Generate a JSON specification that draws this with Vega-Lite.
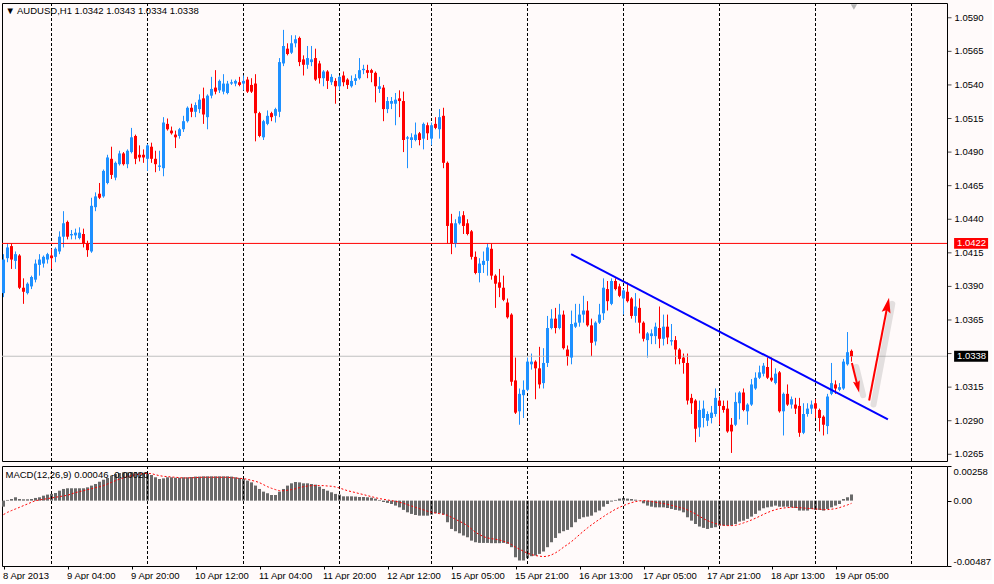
{
  "$schema": "https://vega.github.io/schema/vega-lite/v6.json",
  "background": "#fffafa",
  "padding": {"left": 1, "top": 2, "right": 0, "bottom": 0},
  "spacing": 3,
  "config": {
    "view": {"stroke": "#000000", "strokeWidth": 1},
    "axis": {"labelFont": "Liberation Sans", "labelFontSize": 9.5, "labelColor": "#000000", "tickColor": "#000000", "domain": false, "grid": false, "labelOverlap": false},
    "text": {"font": "Liberation Sans, DejaVu Sans", "fontSize": 9.5}
  },
  "datasets": {
    "bars": [
      {"i":0,"o":1.0385,"h":1.0414,"l":1.0382,"c":1.0410,"m":-0.00045,"s":-0.00104},
      {"i":1,"o":1.0411,"h":1.0422,"l":1.0408,"c":1.0419,"m":0.00005,"s":-0.00087},
      {"i":2,"o":1.0420,"h":1.0422,"l":1.0403,"c":1.0410,"m":0.00012,"s":-0.00074},
      {"i":3,"o":1.0409,"h":1.0416,"l":1.0403,"c":1.0414,"m":0.00025,"s":-0.00062},
      {"i":4,"o":1.0413,"h":1.0414,"l":1.0388,"c":1.0389,"m":0.00012,"s":-0.00050},
      {"i":5,"o":1.0389,"h":1.0396,"l":1.0377,"c":1.0386,"m":0.00010,"s":-0.00037},
      {"i":6,"o":1.0385,"h":1.0393,"l":1.0384,"c":1.0392,"m":0.00010,"s":-0.00025},
      {"i":7,"o":1.0390,"h":1.0398,"l":1.0388,"c":1.0397,"m":0.00012,"s":-0.00012},
      {"i":8,"o":1.0395,"h":1.0410,"l":1.0393,"c":1.0407,"m":0.00020,"s":0},
      {"i":9,"o":1.0406,"h":1.0414,"l":1.0398,"c":1.0410,"m":0.00025,"s":0.00005},
      {"i":10,"o":1.0407,"h":1.0413,"l":1.0404,"c":1.0412,"m":0.00037,"s":0.00010},
      {"i":11,"o":1.0410,"h":1.0415,"l":1.0407,"c":1.0414,"m":0.00045,"s":0.00015},
      {"i":12,"o":1.0413,"h":1.0418,"l":1.0403,"c":1.0411,"m":0.00050,"s":0.00020},
      {"i":13,"o":1.0412,"h":1.0419,"l":1.0408,"c":1.0418,"m":0.00057,"s":0.00025},
      {"i":14,"o":1.0416,"h":1.0431,"l":1.0414,"c":1.0427,"m":0.00074,"s":0.00030},
      {"i":15,"o":1.0427,"h":1.0446,"l":1.0419,"c":1.0437,"m":0.00087,"s":0.00035},
      {"i":16,"o":1.0438,"h":1.0439,"l":1.0425,"c":1.0427,"m":0.00092,"s":0.00040},
      {"i":17,"o":1.0428,"h":1.0432,"l":1.0425,"c":1.0429,"m":0.00092,"s":0.00050},
      {"i":18,"o":1.0428,"h":1.0433,"l":1.0425,"c":1.0430,"m":0.00092,"s":0.00060},
      {"i":19,"o":1.0426,"h":1.0434,"l":1.0425,"c":1.0430,"m":0.00092,"s":0.00067},
      {"i":20,"o":1.0429,"h":1.0433,"l":1.0419,"c":1.0422,"m":0.00092,"s":0.00074},
      {"i":21,"o":1.0422,"h":1.0424,"l":1.0412,"c":1.0417,"m":0.00099,"s":0.00082},
      {"i":22,"o":1.0416,"h":1.0456,"l":1.0415,"c":1.0450,"m":0.00112,"s":0.00089},
      {"i":23,"o":1.0449,"h":1.0460,"l":1.0446,"c":1.0457,"m":0.00124,"s":0.00097},
      {"i":24,"o":1.0459,"h":1.0467,"l":1.0455,"c":1.0456,"m":0.00141,"s":0.00104},
      {"i":25,"o":1.0457,"h":1.0477,"l":1.0456,"c":1.0476,"m":0.00156,"s":0.00112},
      {"i":26,"o":1.0467,"h":1.0488,"l":1.0466,"c":1.0486,"m":0.00169,"s":0.00124},
      {"i":27,"o":1.0485,"h":1.0494,"l":1.0470,"c":1.0473,"m":0.00186,"s":0.00136},
      {"i":28,"o":1.0471,"h":1.0483,"l":1.0469,"c":1.0482,"m":0.00198,"s":0.00149},
      {"i":29,"o":1.0481,"h":1.0491,"l":1.0480,"c":1.0489,"m":0.00206,"s":0.00161},
      {"i":30,"o":1.0489,"h":1.0490,"l":1.0480,"c":1.0481,"m":0.00211,"s":0.00169},
      {"i":31,"o":1.0481,"h":1.0492,"l":1.0478,"c":1.0491,"m":0.00211,"s":0.00179},
      {"i":32,"o":1.0490,"h":1.0508,"l":1.0489,"c":1.0501,"m":0.00213,"s":0.00186},
      {"i":33,"o":1.0502,"h":1.0503,"l":1.0481,"c":1.0485,"m":0.00213,"s":0.00193},
      {"i":34,"o":1.0488,"h":1.0495,"l":1.0483,"c":1.0486,"m":0.00211,"s":0.00198},
      {"i":35,"o":1.0488,"h":1.0492,"l":1.0482,"c":1.0486,"m":0.00208,"s":0.00201},
      {"i":36,"o":1.0485,"h":1.0496,"l":1.0476,"c":1.0495,"m":0.00198,"s":0.00203},
      {"i":37,"o":1.0494,"h":1.0497,"l":1.0482,"c":1.0485,"m":0.00191,"s":0.00201},
      {"i":38,"o":1.0485,"h":1.0491,"l":1.0475,"c":1.0481,"m":0.00174,"s":0.00193},
      {"i":39,"o":1.0479,"h":1.0491,"l":1.0476,"c":1.0480,"m":0.00161,"s":0.00186},
      {"i":40,"o":1.0478,"h":1.0516,"l":1.0472,"c":1.0512,"m":0.00166,"s":0.00181},
      {"i":41,"o":1.0511,"h":1.0515,"l":1.0506,"c":1.0507,"m":0.00174,"s":0.00179},
      {"i":42,"o":1.0506,"h":1.0509,"l":1.0503,"c":1.0504,"m":0.00174,"s":0.00176},
      {"i":43,"o":1.0503,"h":1.0506,"l":1.0493,"c":1.0501,"m":0.00171,"s":0.00174},
      {"i":44,"o":1.0502,"h":1.0508,"l":1.0500,"c":1.0507,"m":0.00171,"s":0.00171},
      {"i":45,"o":1.0507,"h":1.0517,"l":1.0505,"c":1.0513,"m":0.00174,"s":0.00169},
      {"i":46,"o":1.0513,"h":1.0524,"l":1.0512,"c":1.0523,"m":0.00174,"s":0.00169},
      {"i":47,"o":1.0523,"h":1.0526,"l":1.0516,"c":1.0520,"m":0.00176,"s":0.00171},
      {"i":48,"o":1.0520,"h":1.0527,"l":1.0516,"c":1.0525,"m":0.00179,"s":0.00171},
      {"i":49,"o":1.0522,"h":1.0533,"l":1.0519,"c":1.0529,"m":0.00179,"s":0.00174},
      {"i":50,"o":1.0530,"h":1.0538,"l":1.0511,"c":1.0518,"m":0.00181,"s":0.00174},
      {"i":51,"o":1.0516,"h":1.0533,"l":1.0507,"c":1.0532,"m":0.00181,"s":0.00174},
      {"i":52,"o":1.0532,"h":1.0546,"l":1.0530,"c":1.0537,"m":0.00181,"s":0.00174},
      {"i":53,"o":1.0538,"h":1.0551,"l":1.0533,"c":1.0535,"m":0.00181,"s":0.00174},
      {"i":54,"o":1.0536,"h":1.0544,"l":1.0534,"c":1.0543,"m":0.00181,"s":0.00174},
      {"i":55,"o":1.0535,"h":1.0548,"l":1.0533,"c":1.0541,"m":0.00181,"s":0.00174},
      {"i":56,"o":1.0534,"h":1.0543,"l":1.0533,"c":1.0541,"m":0.00181,"s":0.00174},
      {"i":57,"o":1.0541,"h":1.0544,"l":1.0540,"c":1.0542,"m":0.00179,"s":0.00171},
      {"i":58,"o":1.0541,"h":1.0544,"l":1.0539,"c":1.0543,"m":0.00174,"s":0.00169},
      {"i":59,"o":1.0542,"h":1.0546,"l":1.0539,"c":1.0540,"m":0.00169,"s":0.00166},
      {"i":60,"o":1.0541,"h":1.0547,"l":1.0536,"c":1.0543,"m":0.00161,"s":0.00164},
      {"i":61,"o":1.0544,"h":1.0546,"l":1.0534,"c":1.0535,"m":0.00149,"s":0.00159},
      {"i":62,"o":1.0540,"h":1.0545,"l":1.0534,"c":1.0535,"m":0.00136,"s":0.00151},
      {"i":63,"o":1.0541,"h":1.0548,"l":1.0498,"c":1.0519,"m":0.00112,"s":0.00144},
      {"i":64,"o":1.0519,"h":1.0520,"l":1.0501,"c":1.0502,"m":0.00087,"s":0.00134},
      {"i":65,"o":1.0501,"h":1.0514,"l":1.0499,"c":1.0513,"m":0.00067,"s":0.00119},
      {"i":66,"o":1.0511,"h":1.0521,"l":1.0510,"c":1.0517,"m":0.00055,"s":0.00104},
      {"i":67,"o":1.0519,"h":1.0520,"l":1.0513,"c":1.0516,"m":0.00042,"s":0.00092},
      {"i":68,"o":1.0517,"h":1.0523,"l":1.0512,"c":1.0522,"m":0.00042,"s":0.00082},
      {"i":69,"o":1.0520,"h":1.0560,"l":1.0516,"c":1.0557,"m":0.00067,"s":0.00074},
      {"i":70,"o":1.0556,"h":1.0581,"l":1.0554,"c":1.0569,"m":0.00087,"s":0.00074},
      {"i":71,"o":1.0567,"h":1.0571,"l":1.0562,"c":1.0563,"m":0.00112,"s":0.00077},
      {"i":72,"o":1.0564,"h":1.0577,"l":1.0563,"c":1.0571,"m":0.00129,"s":0.00082},
      {"i":73,"o":1.0571,"h":1.0577,"l":1.0568,"c":1.0574,"m":0.00139,"s":0.00089},
      {"i":74,"o":1.0575,"h":1.0576,"l":1.0554,"c":1.0557,"m":0.00136,"s":0.00097},
      {"i":75,"o":1.0559,"h":1.0562,"l":1.0547,"c":1.0555,"m":0.00129,"s":0.00104},
      {"i":76,"o":1.0555,"h":1.0569,"l":1.0552,"c":1.0560,"m":0.00129,"s":0.00109},
      {"i":77,"o":1.0557,"h":1.0569,"l":1.0554,"c":1.0559,"m":0.00124,"s":0.00112},
      {"i":78,"o":1.0560,"h":1.0567,"l":1.0543,"c":1.0544,"m":0.00119,"s":0.00112},
      {"i":79,"o":1.0556,"h":1.0558,"l":1.0541,"c":1.0545,"m":0.00104,"s":0.00112},
      {"i":80,"o":1.0545,"h":1.0551,"l":1.0539,"c":1.0550,"m":0.00087,"s":0.00112},
      {"i":81,"o":1.0550,"h":1.0551,"l":1.0537,"c":1.0543,"m":0.00074,"s":0.00109},
      {"i":82,"o":1.0542,"h":1.0548,"l":1.0540,"c":1.0546,"m":0.00062,"s":0.00107},
      {"i":83,"o":1.0543,"h":1.0545,"l":1.0526,"c":1.0539,"m":0.00050,"s":0.00102},
      {"i":84,"o":1.0539,"h":1.0547,"l":1.0536,"c":1.0546,"m":0.00045,"s":0.00094},
      {"i":85,"o":1.0547,"h":1.0550,"l":1.0539,"c":1.0542,"m":0.00032,"s":0.00084},
      {"i":86,"o":1.0544,"h":1.0545,"l":1.0537,"c":1.0540,"m":0.00032,"s":0.00074},
      {"i":87,"o":1.0539,"h":1.0547,"l":1.0538,"c":1.0543,"m":0.00032,"s":0.00067},
      {"i":88,"o":1.0543,"h":1.0548,"l":1.0540,"c":1.0545,"m":0.00030,"s":0.00060},
      {"i":89,"o":1.0545,"h":1.0560,"l":1.0544,"c":1.0551,"m":0.00027,"s":0.00052},
      {"i":90,"o":1.0551,"h":1.0555,"l":1.0548,"c":1.0552,"m":0.00027,"s":0.00045},
      {"i":91,"o":1.0551,"h":1.0555,"l":1.0545,"c":1.0549,"m":0.00025,"s":0.00037},
      {"i":92,"o":1.0551,"h":1.0552,"l":1.0542,"c":1.0549,"m":0.00022,"s":0.00030},
      {"i":93,"o":1.0549,"h":1.0550,"l":1.0527,"c":1.0539,"m":0.00015,"s":0.00022},
      {"i":94,"o":1.0537,"h":1.0546,"l":1.0534,"c":1.0539,"m":0.00005,"s":0.00015},
      {"i":95,"o":1.0538,"h":1.0540,"l":1.0513,"c":1.0522,"m":-0.00010,"s":0.00010},
      {"i":96,"o":1.0522,"h":1.0531,"l":1.0519,"c":1.0528,"m":-0.00017,"s":0.00005},
      {"i":97,"o":1.0526,"h":1.0531,"l":1.0522,"c":1.0528,"m":-0.00025,"s":0},
      {"i":98,"o":1.0526,"h":1.0534,"l":1.0510,"c":1.0529,"m":-0.00037,"s":-0.00005},
      {"i":99,"o":1.0530,"h":1.0536,"l":1.0516,"c":1.0528,"m":-0.00050,"s":-0.00012},
      {"i":100,"o":1.0528,"h":1.0535,"l":1.0490,"c":1.0499,"m":-0.00069,"s":-0.00020},
      {"i":101,"o":1.0500,"h":1.0502,"l":1.0478,"c":1.0501,"m":-0.00087,"s":-0.00030},
      {"i":102,"o":1.0499,"h":1.0504,"l":1.0493,"c":1.0501,"m":-0.00099,"s":-0.00040},
      {"i":103,"o":1.0499,"h":1.0512,"l":1.0498,"c":1.0503,"m":-0.00107,"s":-0.00050},
      {"i":104,"o":1.0504,"h":1.0505,"l":1.0495,"c":1.0499,"m":-0.00112,"s":-0.00060},
      {"i":105,"o":1.0500,"h":1.0512,"l":1.0492,"c":1.0511,"m":-0.00112,"s":-0.00069},
      {"i":106,"o":1.0510,"h":1.0512,"l":1.0499,"c":1.0504,"m":-0.00112,"s":-0.00079},
      {"i":107,"o":1.0500,"h":1.0512,"l":1.0495,"c":1.0510,"m":-0.00104,"s":-0.00087},
      {"i":108,"o":1.0511,"h":1.0516,"l":1.0507,"c":1.0508,"m":-0.00094,"s":-0.00092},
      {"i":109,"o":1.0507,"h":1.0522,"l":1.0500,"c":1.0516,"m":-0.00094,"s":-0.00097},
      {"i":110,"o":1.0517,"h":1.0523,"l":1.0478,"c":1.0482,"m":-0.00104,"s":-0.00102},
      {"i":111,"o":1.0482,"h":1.0483,"l":1.0422,"c":1.0435,"m":-0.00161,"s":-0.00109},
      {"i":112,"o":1.0437,"h":1.0444,"l":1.0414,"c":1.0422,"m":-0.00211,"s":-0.00124},
      {"i":113,"o":1.0422,"h":1.0440,"l":1.0419,"c":1.0437,"m":-0.00228,"s":-0.00139},
      {"i":114,"o":1.0437,"h":1.0446,"l":1.0436,"c":1.0442,"m":-0.00243,"s":-0.00154},
      {"i":115,"o":1.0443,"h":1.0446,"l":1.0429,"c":1.0435,"m":-0.00260,"s":-0.00169},
      {"i":116,"o":1.0437,"h":1.0440,"l":1.0428,"c":1.0429,"m":-0.00273,"s":-0.00186},
      {"i":117,"o":1.0431,"h":1.0432,"l":1.0410,"c":1.0412,"m":-0.00298,"s":-0.00211},
      {"i":118,"o":1.0412,"h":1.0416,"l":1.0399,"c":1.0400,"m":-0.00310,"s":-0.00236},
      {"i":119,"o":1.0400,"h":1.0411,"l":1.0393,"c":1.0407,"m":-0.00315,"s":-0.00253},
      {"i":120,"o":1.0406,"h":1.0416,"l":1.0400,"c":1.0409,"m":-0.00315,"s":-0.00268},
      {"i":121,"o":1.0409,"h":1.0422,"l":1.0398,"c":1.0419,"m":-0.00315,"s":-0.00278},
      {"i":122,"o":1.0418,"h":1.0422,"l":1.0395,"c":1.0398,"m":-0.00317,"s":-0.00283},
      {"i":123,"o":1.0398,"h":1.0399,"l":1.0374,"c":1.0392,"m":-0.00317,"s":-0.00288},
      {"i":124,"o":1.0393,"h":1.0403,"l":1.0382,"c":1.0389,"m":-0.00317,"s":-0.00293},
      {"i":125,"o":1.0389,"h":1.0398,"l":1.0379,"c":1.0380,"m":-0.00315,"s":-0.00303},
      {"i":126,"o":1.0378,"h":1.0381,"l":1.0366,"c":1.0367,"m":-0.00322,"s":-0.00312},
      {"i":127,"o":1.0369,"h":1.0370,"l":1.0316,"c":1.0319,"m":-0.00347,"s":-0.00327},
      {"i":128,"o":1.0320,"h":1.0337,"l":1.0295,"c":1.0296,"m":-0.00422,"s":-0.00347},
      {"i":129,"o":1.0297,"h":1.0314,"l":1.0287,"c":1.0310,"m":-0.00446,"s":-0.00362},
      {"i":130,"o":1.0309,"h":1.0320,"l":1.0292,"c":1.0313,"m":-0.00446,"s":-0.00377},
      {"i":131,"o":1.0313,"h":1.0337,"l":1.0312,"c":1.0334,"m":-0.00429,"s":-0.00392},
      {"i":132,"o":1.0332,"h":1.0340,"l":1.0328,"c":1.0334,"m":-0.00414,"s":-0.00402},
      {"i":133,"o":1.0334,"h":1.0335,"l":1.0306,"c":1.0329,"m":-0.00409,"s":-0.00409},
      {"i":134,"o":1.0329,"h":1.0345,"l":1.0314,"c":1.0317,"m":-0.00397,"s":-0.00414},
      {"i":135,"o":1.0318,"h":1.0344,"l":1.0314,"c":1.0333,"m":-0.00379,"s":-0.00417},
      {"i":136,"o":1.0333,"h":1.0368,"l":1.0330,"c":1.0359,"m":-0.00347,"s":-0.00414},
      {"i":137,"o":1.0359,"h":1.0373,"l":1.0358,"c":1.0366,"m":-0.00310,"s":-0.00404},
      {"i":138,"o":1.0366,"h":1.0374,"l":1.0355,"c":1.0359,"m":-0.00278,"s":-0.00389},
      {"i":139,"o":1.0359,"h":1.0377,"l":1.0358,"c":1.0369,"m":-0.00243,"s":-0.00370},
      {"i":140,"o":1.0369,"h":1.0372,"l":1.0343,"c":1.0344,"m":-0.00228,"s":-0.00347},
      {"i":141,"o":1.0343,"h":1.0346,"l":1.0331,"c":1.0338,"m":-0.00218,"s":-0.00327},
      {"i":142,"o":1.0337,"h":1.0372,"l":1.0332,"c":1.0362,"m":-0.00198,"s":-0.00305},
      {"i":143,"o":1.0360,"h":1.0377,"l":1.0359,"c":1.0363,"m":-0.00161,"s":-0.00280},
      {"i":144,"o":1.0363,"h":1.0377,"l":1.0360,"c":1.0369,"m":-0.00136,"s":-0.00253},
      {"i":145,"o":1.0369,"h":1.0383,"l":1.0363,"c":1.0372,"m":-0.00124,"s":-0.00228},
      {"i":146,"o":1.0372,"h":1.0379,"l":1.0360,"c":1.0361,"m":-0.00119,"s":-0.00203},
      {"i":147,"o":1.0361,"h":1.0366,"l":1.0338,"c":1.0348,"m":-0.00112,"s":-0.00181},
      {"i":148,"o":1.0349,"h":1.0364,"l":1.0346,"c":1.0363,"m":-0.00087,"s":-0.00159},
      {"i":149,"o":1.0363,"h":1.0377,"l":1.0362,"c":1.0369,"m":-0.00074,"s":-0.00139},
      {"i":150,"o":1.0370,"h":1.0396,"l":1.0365,"c":1.0389,"m":-0.00045,"s":-0.00119},
      {"i":151,"o":1.0388,"h":1.0394,"l":1.0372,"c":1.0379,"m":-0.00025,"s":-0.00099},
      {"i":152,"o":1.0377,"h":1.0396,"l":1.0376,"c":1.0394,"m":-0.00007,"s":-0.00082},
      {"i":153,"o":1.0394,"h":1.0396,"l":1.0387,"c":1.0388,"m":0.00005,"s":-0.00064},
      {"i":154,"o":1.0390,"h":1.0392,"l":1.0382,"c":1.0383,"m":0.00015,"s":-0.00050},
      {"i":155,"o":1.0381,"h":1.0388,"l":1.0369,"c":1.0387,"m":0.00020,"s":-0.00037},
      {"i":156,"o":1.0386,"h":1.0393,"l":1.0378,"c":1.0379,"m":0.00015,"s":-0.00025},
      {"i":157,"o":1.0381,"h":1.0382,"l":1.0366,"c":1.0368,"m":0.00012,"s":-0.00015},
      {"i":158,"o":1.0368,"h":1.0385,"l":1.0363,"c":1.0375,"m":0.00007,"s":-0.00007},
      {"i":159,"o":1.0374,"h":1.0381,"l":1.0355,"c":1.0363,"m":-0.00002,"s":-0.00002},
      {"i":160,"o":1.0363,"h":1.0364,"l":1.0349,"c":1.0351,"m":-0.00020,"s":0},
      {"i":161,"o":1.0350,"h":1.0356,"l":1.0337,"c":1.0355,"m":-0.00037,"s":-0.00002},
      {"i":162,"o":1.0353,"h":1.0358,"l":1.0347,"c":1.0355,"m":-0.00045,"s":-0.00007},
      {"i":163,"o":1.0353,"h":1.0363,"l":1.0347,"c":1.0360,"m":-0.00050,"s":-0.00012},
      {"i":164,"o":1.0359,"h":1.0375,"l":1.0344,"c":1.0351,"m":-0.00050,"s":-0.00017},
      {"i":165,"o":1.0351,"h":1.0369,"l":1.0346,"c":1.0360,"m":-0.00050,"s":-0.00022},
      {"i":166,"o":1.0360,"h":1.0369,"l":1.0347,"c":1.0352,"m":-0.00055,"s":-0.00027},
      {"i":167,"o":1.0349,"h":1.0362,"l":1.0346,"c":1.0350,"m":-0.00062,"s":-0.00035},
      {"i":168,"o":1.0350,"h":1.0353,"l":1.0332,"c":1.0343,"m":-0.00069,"s":-0.00042},
      {"i":169,"o":1.0343,"h":1.0344,"l":1.0332,"c":1.0336,"m":-0.00074,"s":-0.00050},
      {"i":170,"o":1.0337,"h":1.0340,"l":1.0325,"c":1.0333,"m":-0.00087,"s":-0.00057},
      {"i":171,"o":1.0333,"h":1.0340,"l":1.0302,"c":1.0305,"m":-0.00124,"s":-0.00069},
      {"i":172,"o":1.0307,"h":1.0310,"l":1.0295,"c":1.0303,"m":-0.00149,"s":-0.00084},
      {"i":173,"o":1.0305,"h":1.0306,"l":1.0274,"c":1.0284,"m":-0.00174,"s":-0.00099},
      {"i":174,"o":1.0285,"h":1.0305,"l":1.0278,"c":1.0298,"m":-0.00193,"s":-0.00117},
      {"i":175,"o":1.0292,"h":1.0305,"l":1.0285,"c":1.0299,"m":-0.00203,"s":-0.00134},
      {"i":176,"o":1.0290,"h":1.0297,"l":1.0286,"c":1.0295,"m":-0.00211,"s":-0.00149},
      {"i":177,"o":1.0292,"h":1.0301,"l":1.0288,"c":1.0296,"m":-0.00203,"s":-0.00161},
      {"i":178,"o":1.0295,"h":1.0314,"l":1.0293,"c":1.0307,"m":-0.00198,"s":-0.00171},
      {"i":179,"o":1.0305,"h":1.0308,"l":1.0287,"c":1.0301,"m":-0.00186,"s":-0.00179},
      {"i":180,"o":1.0301,"h":1.0305,"l":1.0296,"c":1.0298,"m":-0.00186,"s":-0.00184},
      {"i":181,"o":1.0299,"h":1.0305,"l":1.0281,"c":1.0282,"m":-0.00186,"s":-0.00186},
      {"i":182,"o":1.0287,"h":1.0292,"l":1.0266,"c":1.0282,"m":-0.00186,"s":-0.00186},
      {"i":183,"o":1.0287,"h":1.0311,"l":1.0286,"c":1.0304,"m":-0.00174,"s":-0.00184},
      {"i":184,"o":1.0303,"h":1.0312,"l":1.0291,"c":1.0311,"m":-0.00156,"s":-0.00176},
      {"i":185,"o":1.0311,"h":1.0314,"l":1.0297,"c":1.0298,"m":-0.00149,"s":-0.00166},
      {"i":186,"o":1.0297,"h":1.0303,"l":1.0287,"c":1.0302,"m":-0.00136,"s":-0.00156},
      {"i":187,"o":1.0302,"h":1.0321,"l":1.0301,"c":1.0317,"m":-0.00119,"s":-0.00144},
      {"i":188,"o":1.0314,"h":1.0326,"l":1.0313,"c":1.0322,"m":-0.00099,"s":-0.00131},
      {"i":189,"o":1.0322,"h":1.0331,"l":1.0321,"c":1.0326,"m":-0.00074,"s":-0.00117},
      {"i":190,"o":1.0325,"h":1.0333,"l":1.0323,"c":1.0331,"m":-0.00057,"s":-0.00102},
      {"i":191,"o":1.0330,"h":1.0337,"l":1.0321,"c":1.0322,"m":-0.00050,"s":-0.00089},
      {"i":192,"o":1.0322,"h":1.0337,"l":1.0319,"c":1.0320,"m":-0.00045,"s":-0.00077},
      {"i":193,"o":1.0318,"h":1.0329,"l":1.0317,"c":1.0325,"m":-0.00037,"s":-0.00067},
      {"i":194,"o":1.0326,"h":1.0327,"l":1.0296,"c":1.0297,"m":-0.00045,"s":-0.00060},
      {"i":195,"o":1.0297,"h":1.0311,"l":1.0279,"c":1.0310,"m":-0.00045,"s":-0.00055},
      {"i":196,"o":1.0310,"h":1.0317,"l":1.0301,"c":1.0302,"m":-0.00045,"s":-0.00052},
      {"i":197,"o":1.0302,"h":1.0308,"l":1.0299,"c":1.0306,"m":-0.00050,"s":-0.00050},
      {"i":198,"o":1.0302,"h":1.0307,"l":1.0295,"c":1.0299,"m":-0.00055,"s":-0.00050},
      {"i":199,"o":1.0301,"h":1.0307,"l":1.0278,"c":1.0281,"m":-0.00074,"s":-0.00052},
      {"i":200,"o":1.0281,"h":1.0303,"l":1.0280,"c":1.0295,"m":-0.00074,"s":-0.00055},
      {"i":201,"o":1.0295,"h":1.0303,"l":1.0293,"c":1.0299,"m":-0.00074,"s":-0.00057},
      {"i":202,"o":1.0299,"h":1.0305,"l":1.0295,"c":1.0302,"m":-0.00062,"s":-0.00060},
      {"i":203,"o":1.0303,"h":1.0306,"l":1.0292,"c":1.0299,"m":-0.00069,"s":-0.00062},
      {"i":204,"o":1.0298,"h":1.0299,"l":1.0282,"c":1.0292,"m":-0.00069,"s":-0.00064},
      {"i":205,"o":1.0293,"h":1.0294,"l":1.0279,"c":1.0287,"m":-0.00074,"s":-0.00067},
      {"i":206,"o":1.0286,"h":1.0310,"l":1.0280,"c":1.0308,"m":-0.00062,"s":-0.00067},
      {"i":207,"o":1.0310,"h":1.0333,"l":1.0309,"c":1.0318,"m":-0.00050,"s":-0.00064},
      {"i":208,"o":1.0317,"h":1.0320,"l":1.0310,"c":1.0314,"m":-0.00037,"s":-0.00060},
      {"i":209,"o":1.0313,"h":1.0318,"l":1.0312,"c":1.0315,"m":-0.00025,"s":-0.00052},
      {"i":210,"o":1.0314,"h":1.0336,"l":1.0313,"c":1.0334,"m":0.00012,"s":-0.00042},
      {"i":211,"o":1.0332,"h":1.0356,"l":1.0331,"c":1.0341,"m":0.00025,"s":-0.00032},
      {"i":212,"o":1.0342,"h":1.0343,"l":1.0334,"c":1.0338,"m":0.00046,"s":-0.00020}
    ],
    "days": [{"d":12},{"d":36},{"d":60},{"d":84},{"d":107},{"d":131},{"d":155},{"d":179},{"d":203},{"d":227}],
    "prices": [{"p":1.0265},{"p":1.029},{"p":1.0315},{"p":1.034},{"p":1.0365},{"p":1.039},{"p":1.0415},{"p":1.044},{"p":1.0465},{"p":1.049},{"p":1.0515},{"p":1.054},{"p":1.0565},{"p":1.059}],
    "levels": [{"p":1.0422,"t":"1.0422","k":"alert"},{"p":1.0338,"t":"1.0338","k":"bid"}],
    "trend": [{"i":141.9,"p":1.0414},{"i":221.1,"p":1.0291}],
    "arrows": [
      {"a":"down","i":212.1,"p":1.0333},{"a":"down","i":213.5,"p":1.0316},
      {"a":"up","i":216.4,"p":1.0305},{"a":"up","i":220.95,"p":1.0375}
    ],
    "shadows": [
      {"a":"down","i":213.2,"p":1.0330},{"a":"down","i":214.9,"p":1.0309},
      {"a":"up","i":217.5,"p":1.0302},{"a":"up","i":222.2,"p":1.0377}
    ],
    "heads": [{"a":"down","i":213.5,"p":1.0316},{"a":"up","i":220.95,"p":1.0375}]
  },
  "resolve": {"scale": {"x": "independent", "y": "independent"}},
  "vconcat": [
    {
      "width": 945,
      "height": 458,
      "layer": [
        {
          "data": {"name": "days"},
          "mark": {"type": "rule", "color": "#000000", "strokeWidth": 1, "strokeDash": [3, 2]},
          "encoding": {
            "x": {"field": "d", "type": "quantitative", "title": null, "axis": null,
                  "scale": {"domain": [-0.375, 235.875], "nice": false, "zero": false, "padding": 0}}
          }
        },
        {
          "data": {"name": "bars"},
          "mark": {"type": "rule", "strokeWidth": 1},
          "encoding": {
            "x": {"field": "i", "type": "quantitative", "title": null, "axis": null},
            "y": {"field": "l", "type": "quantitative", "title": null,
                  "scale": {"domain": [1.026, 1.0601], "nice": false, "zero": false, "padding": 0},
                  "axis": null},
            "y2": {"field": "h"},
            "color": {"condition": {"test": "datum.c >= datum.o", "value": "#1e90ff"}, "value": "#ff0000"}
          }
        },
        {
          "data": {"name": "levels"},
          "mark": {"type": "rule", "strokeWidth": 1},
          "encoding": {
            "y": {"field": "p", "type": "quantitative", "title": null, "axis": null},
            "color": {"condition": {"test": "datum.k == 'bid'", "value": "#c0c0c0"}, "value": "#ff0000"}
          }
        },
        {
          "data": {"name": "bars"},
          "mark": {"type": "bar", "width": 3},
          "encoding": {
            "x": {"field": "i", "type": "quantitative", "title": null, "axis": null},
            "y": {"field": "o", "type": "quantitative", "title": null, "axis": null},
            "y2": {"field": "c"},
            "color": {"condition": {"test": "datum.c >= datum.o", "value": "#1e90ff"}, "value": "#ff0000"}
          }
        },
        {
          "data": {"name": "trend"},
          "mark": {"type": "line", "color": "#0000ff", "strokeWidth": 2},
          "encoding": {
            "x": {"field": "i", "type": "quantitative", "title": null, "axis": null},
            "y": {"field": "p", "type": "quantitative", "title": null, "axis": null}
          }
        },
        {
          "data": {"name": "shadows"},
          "mark": {"type": "line", "color": "#808080", "strokeWidth": 6, "opacity": 0.22, "strokeCap": "round"},
          "encoding": {
            "x": {"field": "i", "type": "quantitative", "title": null, "axis": null},
            "y": {"field": "p", "type": "quantitative", "title": null, "axis": null},
            "detail": {"field": "a"}
          }
        },
        {
          "data": {"name": "arrows"},
          "mark": {"type": "line", "color": "#ff0000", "strokeWidth": 2},
          "encoding": {
            "x": {"field": "i", "type": "quantitative", "title": null, "axis": null},
            "y": {"field": "p", "type": "quantitative", "title": null, "axis": null},
            "detail": {"field": "a"}
          }
        },
        {
          "data": {"name": "heads"},
          "transform": [{"filter": "datum.a == 'down'"}],
          "mark": {"type": "point", "shape": "M0,-1L0.5,0.7L0,0.4L-0.5,0.7Z", "angle": 167, "size": 196, "filled": true, "color": "#ff0000", "opacity": 1, "strokeWidth": 0},
          "encoding": {
            "x": {"field": "i", "type": "quantitative", "title": null, "axis": null},
            "y": {"field": "p", "type": "quantitative", "title": null, "axis": null}
          }
        },
        {
          "data": {"name": "heads"},
          "transform": [{"filter": "datum.a == 'up'"}],
          "mark": {"type": "point", "shape": "M0,-1L0.5,0.7L0,0.4L-0.5,0.7Z", "angle": 11, "size": 324, "filled": true, "color": "#ff0000", "opacity": 1, "strokeWidth": 0},
          "encoding": {
            "x": {"field": "i", "type": "quantitative", "title": null, "axis": null},
            "y": {"field": "p", "type": "quantitative", "title": null, "axis": null}
          }
        },
        {
          "data": {"name": "prices"},
          "mark": {"type": "text", "align": "left", "baseline": "middle", "color": "#000000", "font": "Liberation Sans", "fontSize": 9.5},
          "encoding": {
            "x": {"datum": 237.75, "type": "quantitative", "axis": null},
            "y": {"field": "p", "type": "quantitative", "title": null, "axis": null},
            "text": {"field": "p", "format": ".4f"}
          }
        },
        {
          "data": {"name": "prices"},
          "mark": {"type": "tick", "orient": "horizontal", "size": 4, "thickness": 1, "color": "#000000"},
          "encoding": {
            "x": {"datum": 236.5, "type": "quantitative", "axis": null},
            "y": {"field": "p", "type": "quantitative", "title": null, "axis": null}
          }
        },
        {
          "data": {"name": "levels"},
          "mark": {"type": "point", "shape": "M-1,-0.32H1V0.32H-1Z", "size": 1156, "filled": true, "opacity": 1, "strokeWidth": 0},
          "encoding": {
            "x": {"datum": 241.9, "type": "quantitative", "axis": null},
            "y": {"field": "p", "type": "quantitative", "title": null, "axis": null},
            "color": {"condition": {"test": "datum.k == 'bid'", "value": "#000000"}, "value": "#ff0000"}
          }
        },
        {
          "data": {"name": "levels"},
          "mark": {"type": "text", "align": "left", "baseline": "middle", "color": "#ffffff", "font": "Liberation Sans", "fontSize": 9.5},
          "encoding": {
            "x": {"datum": 238.4, "type": "quantitative", "axis": null},
            "y": {"field": "p", "type": "quantitative", "title": null, "axis": null},
            "text": {"field": "t"}
          }
        },
        {
          "data": {"values": [{"label": "▼ AUDUSD,H1  1.0342 1.0343 1.0334 1.0338"}]},
          "mark": {"type": "text", "align": "left", "baseline": "middle", "color": "#000000"},
          "encoding": {
            "x": {"datum": 0.5, "type": "quantitative", "axis": null},
            "y": {"datum": 1.0595, "type": "quantitative", "title": null, "axis": null},
            "text": {"field": "label"}
          }
        },
        {
          "data": {"values": [{"marker": "shift"}]},
          "mark": {"type": "point", "shape": "triangle-down", "size": 40, "filled": true, "color": "#b4b4b4", "opacity": 1},
          "encoding": {
            "x": {"datum": 212.6, "type": "quantitative", "axis": null},
            "y": {"datum": 1.0598, "type": "quantitative", "title": null, "axis": null}
          }
        }
      ]
    },
    {
      "width": 945,
      "height": 100,
      "layer": [
        {
          "data": {"name": "bars"},
          "mark": {"type": "bar", "width": 3, "color": "#696969"},
          "encoding": {
            "x": {"field": "i", "type": "quantitative", "title": null,
                  "scale": {"domain": [-0.375, 235.875], "nice": false, "zero": false, "padding": 0},
                  "axis": {"values": [0, 16, 32, 48, 64, 80, 96, 112, 128, 144, 160, 176, 192, 208],
                           "labelExpr": "['8 Apr 2013','9 Apr 04:00','9 Apr 20:00','10 Apr 12:00','11 Apr 04:00','11 Apr 20:00','12 Apr 12:00','15 Apr 05:00','15 Apr 21:00','16 Apr 13:00','17 Apr 05:00','17 Apr 21:00','18 Apr 13:00','19 Apr 05:00'][round(datum.value / 16)]",
                           "labelAlign": "left", "labelPadding": 1, "labelOffset": -1, "tickSize": 3,
                           "labelOverlap": false, "labelBound": false, "labelFlush": false, "title": null}},
            "y": {"field": "m", "type": "quantitative", "title": null,
                  "scale": {"domain": [-0.00487, 0.00258], "nice": false, "zero": false, "padding": 0},
                  "axis": {"orient": "right", "values": [-0.00487, 0, 0.00258],
                           "labelExpr": "datum.value > 0.001 ? '0.00258' : (datum.value < -0.001 ? '-0.00487' : '0.00')",
                           "labelFlush": true, "labelOverlap": false, "tickSize": 4, "labelPadding": 2, "title": null}},
            "y2": {"datum": 0}
          }
        },
        {
          "data": {"name": "days"},
          "mark": {"type": "rule", "color": "#000000", "strokeWidth": 1, "strokeDash": [3, 2]},
          "encoding": {
            "x": {"field": "d", "type": "quantitative", "title": null}
          }
        },
        {
          "data": {"name": "bars"},
          "mark": {"type": "line", "color": "#ff0000", "strokeWidth": 1, "strokeDash": [2, 2]},
          "encoding": {
            "x": {"field": "i", "type": "quantitative", "title": null},
            "y": {"field": "s", "type": "quantitative", "title": null}
          }
        },
        {
          "data": {"values": [{"label": "MACD(12,26,9) 0.00046 -0.00020"}]},
          "mark": {"type": "text", "align": "left", "baseline": "middle", "color": "#000000"},
          "encoding": {
            "x": {"datum": 0.5, "type": "quantitative", "title": null},
            "y": {"datum": 0.00194, "type": "quantitative", "title": null},
            "text": {"field": "label"}
          }
        }
      ]
    }
  ]
}
